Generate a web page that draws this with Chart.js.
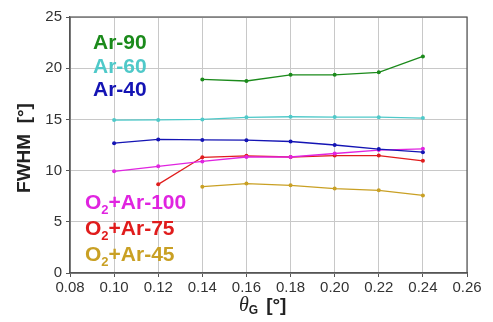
<!DOCTYPE html>
<html>
<head>
<meta charset="utf-8">
<script src="https://cdn.jsdelivr.net/npm/chart.js@4/dist/chart.umd.min.js"></script>
<style>
  html, body { margin: 0; padding: 0; background: #fff; }
</style>
</head>
<body>
<canvas id="chart" width="493" height="322"></canvas>
<script>
// x values (theta_G, degrees)
var thetaG = [0.10, 0.12, 0.14, 0.16, 0.18, 0.20, 0.22, 0.24];

// FWHM values per series (null = no measurement)
var ar90     = [null, null, 18.9, 18.75, 19.35, 19.35, 19.6, 21.15];
var ar60     = [14.93, 14.95, 15.0, 15.2, 15.26, 15.23, 15.22, 15.13];
var ar40     = [12.68, 13.04, 13.0, 12.97, 12.84, 12.5, 12.1, 11.8];
var o2ar100  = [9.93, 10.42, 10.9, 11.33, 11.33, 11.67, 12.0, 12.13];
var o2ar75   = [null, 8.66, 11.3, 11.44, 11.33, 11.47, 11.47, 10.95];
var o2ar45   = [null, null, 8.43, 8.73, 8.56, 8.24, 8.07, 7.58];

var seriesNames  = ["Ar-90", "Ar-60", "Ar-40", "O2+Ar-100", "O2+Ar-75", "O2+Ar-45"];
var seriesValues = [ar90, ar60, ar40, o2ar100, o2ar75, o2ar45];
var seriesColors = ["#1b8a1b", "#4fc9c9", "#1414b4", "#e024e0", "#e01c1c", "#c9a024"];

function toPoints(values) {
    var pts = [];
    for (var i = 0; i < thetaG.length; i++) {
        if (values[i] !== null)
            pts.push({x: thetaG[i], y: values[i]});
    }
    return pts;
}

var datasets = [];
for (var i = 0; i < seriesNames.length; i++) {
    datasets.push({
        label: seriesNames[i],
        data: toPoints(seriesValues[i]),
        borderColor: seriesColors[i],
        backgroundColor: seriesColors[i],
        borderWidth: 1.3,
        pointRadius: 2,
        pointBorderWidth: 0,
        tension: 0
    });
}

// legend text drawn inside the plot, plus axis titles with sub/superscripts
var labelsPlugin = {
    id: 'labels',
    afterDraw: function(chart) {
        var ctx = chart.ctx;
        var area = chart.chartArea;
        ctx.save();

        // frame around the plot
        ctx.strokeStyle = '#555';
        ctx.lineWidth = 1.2;
        ctx.strokeRect(area.left, area.top, area.right - area.left, area.bottom - area.top);

        ctx.textBaseline = 'middle';
        ctx.textAlign = 'left';

        var bigFont = 'bold 21px Arial, "Liberation Sans", sans-serif';
        var topRows = [[0, 43], [1, 67], [2, 90]];
        ctx.font = bigFont;
        for (var k = 0; k < topRows.length; k++) {
            ctx.fillStyle = seriesColors[topRows[k][0]];
            ctx.fillText(seriesNames[topRows[k][0]], 93, topRows[k][1]);
        }

        var bottomRows = [[3, 203], [4, 229], [5, 255]];
        for (k = 0; k < bottomRows.length; k++) {
            var idx = bottomRows[k][0], y = bottomRows[k][1];
            ctx.fillStyle = seriesColors[idx];
            var x = 85;
            ctx.font = bigFont;
            ctx.fillText("O", x, y);
            x += ctx.measureText("O").width;
            ctx.font = 'bold 13px Arial, "Liberation Sans", sans-serif';
            ctx.fillText("2", x, y + 7);
            x += ctx.measureText("2").width;
            ctx.font = bigFont;
            ctx.fillText(seriesNames[idx].substring(2), x, y);
        }

        // y axis title
        ctx.save();
        ctx.translate(25, (area.top + area.bottom) / 2 + 3);
        ctx.rotate(-Math.PI / 2);
        ctx.textAlign = 'center';
        ctx.fillStyle = '#222';
        ctx.font = 'bold 19px Arial, "Liberation Sans", sans-serif';
        ctx.fillText("FWHM  [°]", 0, 0);
        ctx.restore();

        // x axis title
        ctx.fillStyle = '#222';
        var tx = 239, ty = 306;
        ctx.font = 'italic 20px "Liberation Serif", "DejaVu Serif", serif';
        ctx.fillText("θ", tx, ty);
        tx += ctx.measureText("θ").width;
        ctx.font = 'bold 12px Arial, "Liberation Sans", sans-serif';
        ctx.fillText("G", tx, ty + 5);
        tx += ctx.measureText("G").width + 8;
        ctx.font = 'bold 19px Arial, "Liberation Sans", sans-serif';
        ctx.fillText("[°]", tx, ty);
        ctx.restore();
    }
};

new Chart(document.getElementById('chart'), {
    type: 'line',
    data: {datasets: datasets},
    options: {
        responsive: false,
        animation: false,
        layout: {padding: {top: 17, right: 26, left: 0, bottom: 0}},
        plugins: {legend: {display: false}, tooltip: {enabled: false}},
        scales: {
            x: {
                type: 'linear',
                min: 0.08,
                max: 0.26,
                ticks: {
                    stepSize: 0.02,
                    color: '#333',
                    font: {size: 15, family: 'Arial, "Liberation Sans", sans-serif'},
                    padding: 2,
                    maxRotation: 0,
                    callback: function(v) { return v.toFixed(2); }
                },
                grid: {color: '#c8c8c8', tickLength: 4, tickColor: '#555'},
                border: {color: '#555', width: 1.2},
                afterFit: function(scale) { scale.height = 49; }
            },
            y: {
                min: 0,
                max: 25,
                ticks: {
                    stepSize: 5,
                    color: '#333',
                    font: {size: 15, family: 'Arial, "Liberation Sans", sans-serif'},
                    padding: 4
                },
                grid: {color: '#c8c8c8', tickLength: 4, tickColor: '#555'},
                border: {color: '#555', width: 1.2},
                afterFit: function(scale) { scale.width = 70; }
            }
        }
    },
    plugins: [labelsPlugin]
});
</script>
</body>
</html>
